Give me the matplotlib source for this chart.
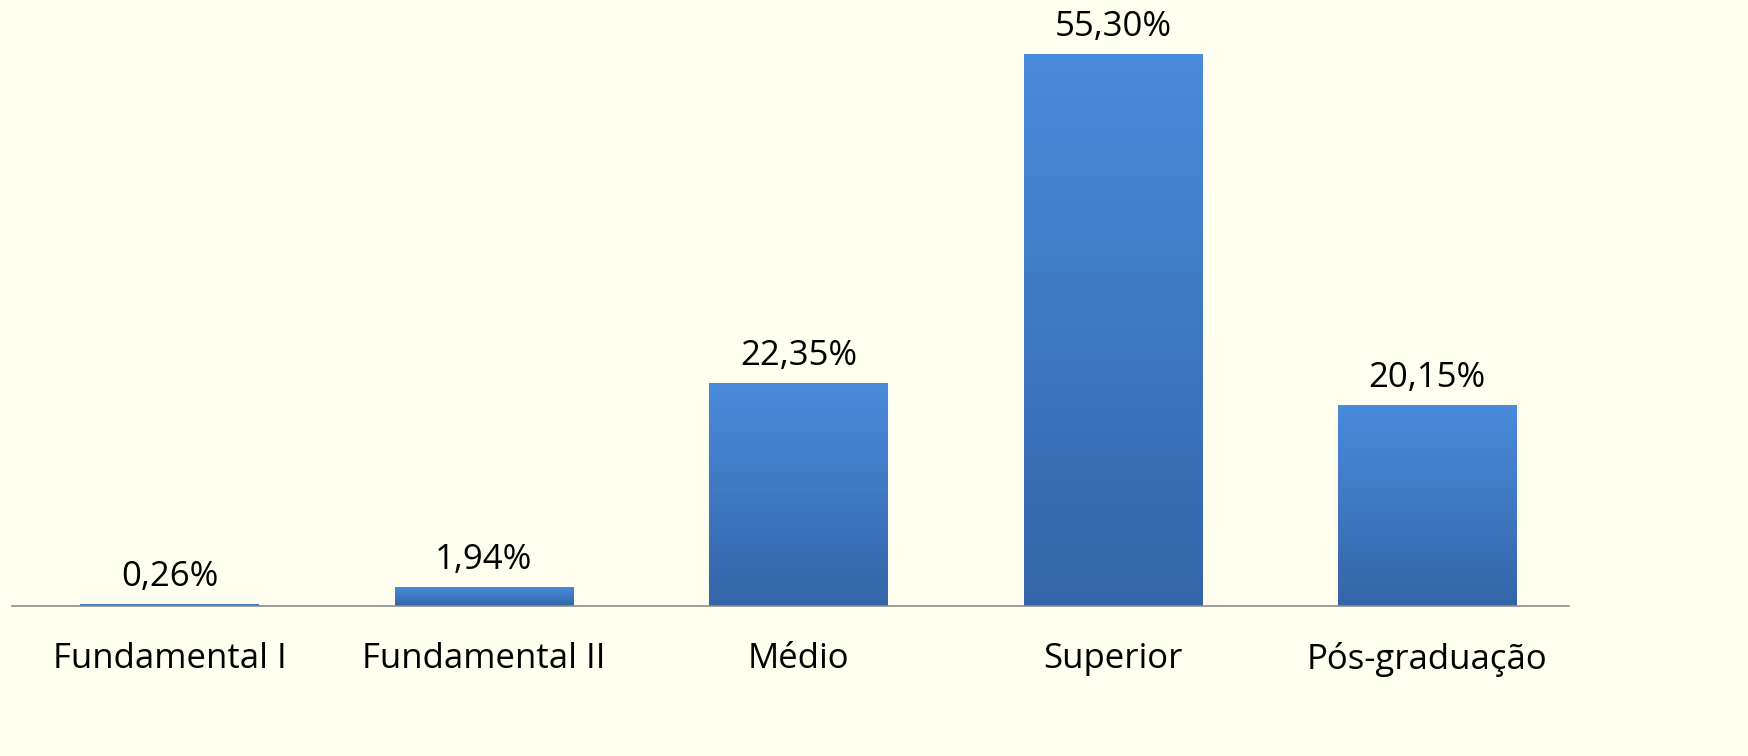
import numpy as np
import matplotlib.pyplot as plt
from matplotlib.colors import LinearSegmentedColormap

categorias = ['Fundamental I', 'Fundamental II', 'Médio', 'Superior', 'Pós-graduação']
valores = [0.26, 1.94, 22.35, 55.30, 20.15]
rotulos = ['0,26%', '1,94%', '22,35%', '55,30%', '20,15%']

fundo = '#FFFFF0'
plt.rcParams['font.family'] = ['Open Sans', 'DejaVu Sans']

fig = plt.figure(figsize=(17.49, 7.56), dpi=100, facecolor=fundo)
ax = fig.add_axes([0.007, 0.198, 0.89, 0.802])
ax.set_facecolor(fundo)

x = np.arange(len(categorias))
barras = ax.bar(x, valores, width=0.567, color='#3F78C4', zorder=2)

# gradiente vertical nas barras
cmap = LinearSegmentedColormap.from_list('azul', ['#3465A8', '#4A8BDC'])
grad = np.linspace(0, 1, 256).reshape(-1, 1)
for b in barras:
    x0, w, h = b.get_x(), b.get_width(), b.get_height()
    im = ax.imshow(grad, cmap=cmap, aspect='auto', origin='lower',
                   extent=[x0, x0 + w, 0, h], zorder=3)
    im.set_clip_path(b)

for xi, v, r in zip(x, valores, rotulos):
    ax.text(xi, v + 1.0, r, ha='center', va='bottom', fontsize=25, color='black')

ax.set_xlim(-0.5, 4.45)
ax.set_ylim(0, 60.7)
ax.set_xticks(x)
ax.set_xticklabels(categorias, fontsize=25)
ax.tick_params(axis='x', length=0, pad=26)
ax.set_yticks([])
for s in ['top', 'right', 'left']:
    ax.spines[s].set_visible(False)
ax.spines['bottom'].set_color('#8C8C8C')
ax.spines['bottom'].set_linewidth(1.2)
ax.spines['bottom'].set_zorder(4)

fig.savefig('out.png', dpi=100, facecolor=fundo)
